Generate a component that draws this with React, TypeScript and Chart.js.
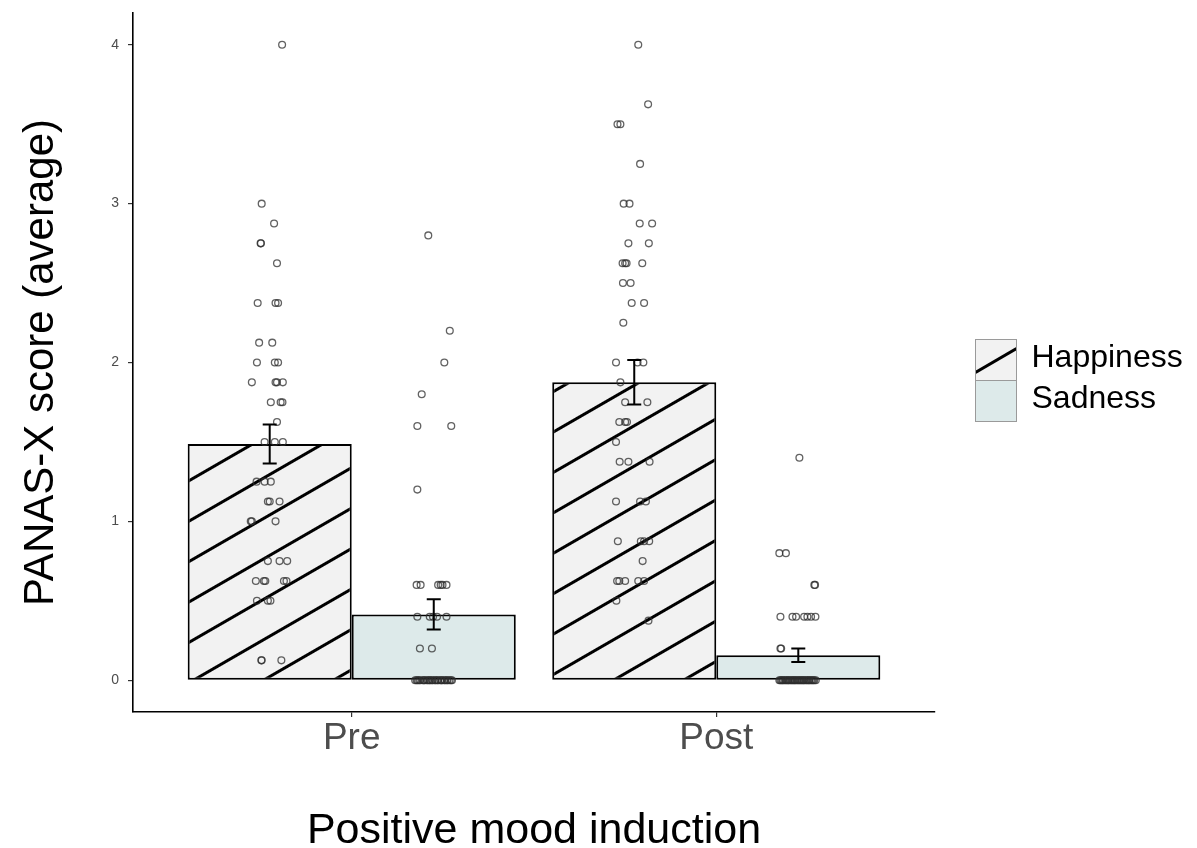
import React, { useEffect, useRef } from 'react';
import { Chart, registerables } from 'chart.js';

Chart.register(...registerables);

const FONT = '"Liberation Sans", Arial, Helvetica, sans-serif';

// ---------- data ----------
const categories = ['Pre', 'Post'];
const seriesLabels = ['Happiness', 'Sadness'];
const happinessMeans = [1.487, 1.875];
const sadnessMeans = [0.414, 0.157];
const happinessSE = [0.123, 0.14];
const sadnessSE = [0.095, 0.043];
const yTicks = [0, 1, 2, 3, 4];

const happinessPreValues = [4.0, 3.0, 2.875, 2.75, 2.75, 2.625, 2.375, 2.375, 2.375, 2.125, 2.125, 2.0, 2.0, 2.0, 1.875, 1.875, 1.875, 1.875, 1.75, 1.75, 1.75, 1.625, 1.5, 1.5, 1.5, 1.25, 1.25, 1.25, 1.125, 1.125, 1.125, 1.0, 1.0, 1.0, 0.75, 0.75, 0.75, 0.625, 0.625, 0.625, 0.625, 0.625, 0.5, 0.5, 0.5, 0.125, 0.125, 0.125];
const happinessPreJitter = [0.034, -0.022, 0.012, -0.025, -0.024, 0.02, -0.033, 0.016, 0.023, -0.029, 0.007, -0.035, 0.014, 0.023, -0.049, 0.016, 0.02, 0.036, 0.003, 0.03, 0.035, 0.02, -0.014, 0.014, 0.036, -0.036, -0.014, 0.003, -0.005, 0.0, 0.027, -0.052, -0.049, 0.016, -0.005, 0.027, 0.048, -0.038, -0.016, -0.012, 0.039, 0.046, -0.035, -0.005, 0.002, -0.023, -0.022, 0.032];

const happinessPostValues = [4.0, 3.625, 3.5, 3.5, 3.25, 3.0, 3.0, 2.875, 2.875, 2.75, 2.75, 2.625, 2.625, 2.625, 2.625, 2.5, 2.5, 2.375, 2.375, 2.25, 2.0, 2.0, 2.0, 1.875, 1.75, 1.75, 1.625, 1.625, 1.625, 1.5, 1.375, 1.375, 1.375, 1.125, 1.125, 1.125, 0.875, 0.875, 0.875, 0.875, 0.75, 0.625, 0.625, 0.625, 0.625, 0.625, 0.5, 0.375];
const happinessPostJitter = [0.011, 0.038, -0.046, -0.038, 0.016, -0.029, -0.013, 0.015, 0.049, -0.016, 0.04, -0.032, -0.025, -0.021, 0.022, -0.031, -0.01, -0.007, 0.027, -0.03, -0.05, 0.009, 0.025, -0.038, -0.025, 0.036, -0.041, -0.025, -0.02, -0.05, -0.04, -0.016, 0.042, -0.05, 0.016, 0.032, -0.045, 0.018, 0.027, 0.041, 0.023, -0.047, -0.041, -0.025, 0.011, 0.027, -0.049, 0.039];

const sadnessPreValues = [2.8, 2.2, 2.0, 1.8, 1.6, 1.6, 1.2, 0.6, 0.6, 0.6, 0.6, 0.6, 0.6, 0.4, 0.4, 0.4, 0.4, 0.4, 0.2, 0.2, 0, 0, 0, 0, 0, 0, 0, 0, 0, 0, 0, 0, 0, 0, 0, 0, 0, 0, 0, 0, 0, 0, 0, 0, 0, 0, 0, 0];
const sadnessPreJitter = [-0.015, 0.044, 0.029, -0.033, -0.045, 0.048, -0.045, -0.047, -0.036, 0.012, 0.019, 0.024, 0.035, -0.045, -0.011, -0.002, 0.009, 0.035, -0.038, -0.005, -0.051, -0.047, -0.044, -0.04, -0.037, -0.03, -0.027, -0.025, -0.019, -0.016, -0.012, -0.01, -0.005, -0.003, 0.003, 0.005, 0.01, 0.012, 0.018, 0.021, 0.023, 0.029, 0.031, 0.036, 0.038, 0.043, 0.047, 0.05];

const sadnessPostValues = [1.4, 0.8, 0.8, 0.6, 0.6, 0.4, 0.4, 0.4, 0.4, 0.4, 0.4, 0.4, 0.2, 0.2, 0, 0, 0, 0, 0, 0, 0, 0, 0, 0, 0, 0, 0, 0, 0, 0, 0, 0, 0, 0, 0, 0, 0, 0, 0, 0, 0, 0, 0, 0, 0, 0, 0, 0];
const sadnessPostJitter = [0.003, -0.052, -0.034, 0.046, 0.044, -0.049, -0.016, -0.006, 0.016, 0.025, 0.035, 0.047, -0.049, -0.047, -0.052, -0.049, -0.046, -0.043, -0.041, -0.037, -0.034, -0.031, -0.028, -0.026, -0.022, -0.019, -0.016, -0.013, -0.01, -0.008, -0.004, -0.001, 0.002, 0.005, 0.008, 0.011, 0.014, 0.016, 0.02, 0.023, 0.026, 0.029, 0.031, 0.035, 0.038, 0.041, 0.044, 0.048];

// ---------- styling ----------
const HAPPY_FILL = '#f2f2f2';
const SAD_FILL = '#ddeaea';
const DODGE = 0.225; // half of the dodged bar width in category units

function points(cat: number, side: number, values: number[], jitter: number[]) {
  return values.map((v, i) => ({ x: cat + 1 + side * DODGE + jitter[i], y: v }));
}

function makeHatch(ctx: CanvasRenderingContext2D) {
  const tile = document.createElement('canvas');
  tile.width = 8;
  tile.height = 35;
  const t = tile.getContext('2d')!;
  t.fillStyle = HAPPY_FILL;
  t.fillRect(0, 0, 8, 35);
  t.fillStyle = '#000';
  t.fillRect(0, 16, 8, 3);
  const p = ctx.createPattern(tile, 'repeat')!;
  p.setTransform(new DOMMatrix().translate(188, 481.3).rotate(-30).translate(0, -17.5));
  return p;
}

const errorBarPlugin = {
  id: 'errorBars',
  afterDatasetsDraw(chart: any) {
    const c = chart.ctx;
    const ys = chart.scales.y;
    const groups: [number, number[], number[]][] = [
      [0, happinessMeans, happinessSE],
      [1, sadnessMeans, sadnessSE],
    ];
    c.save();
    c.strokeStyle = '#000';
    c.lineWidth = 2;
    groups.forEach(([di, means, ses]) => {
      const meta = chart.getDatasetMeta(di);
      meta.data.forEach((bar: any, i: number) => {
        const x = bar.x;
        const top = ys.getPixelForValue(means[i] + ses[i]);
        const bot = ys.getPixelForValue(means[i] - ses[i]);
        const hw = 7;
        c.beginPath();
        c.moveTo(x, top);
        c.lineTo(x, bot);
        c.moveTo(x - hw, top);
        c.lineTo(x + hw, top);
        c.moveTo(x - hw, bot);
        c.lineTo(x + hw, bot);
        c.stroke();
      });
    });
    c.restore();
  },
};

const legendPlugin = {
  id: 'patternLegend',
  afterDraw(chart: any) {
    const c = chart.ctx;
    const left = chart.chartArea.right + 40.5;
    const size = 41;
    const top = 339.5;
    c.save();
    // Happiness key
    c.fillStyle = HAPPY_FILL;
    c.fillRect(left, top, size, size);
    c.save();
    c.beginPath();
    c.rect(left, top, size, size);
    c.clip();
    c.strokeStyle = '#000';
    c.lineWidth = 3;
    c.beginPath();
    c.moveTo(left, top + 33);
    c.lineTo(left + size, top + 9);
    c.stroke();
    c.restore();
    c.strokeStyle = '#9a9a9a';
    c.lineWidth = 1;
    c.strokeRect(left, top, size, size);
    // Sadness key
    c.fillStyle = SAD_FILL;
    c.fillRect(left, top + size, size, size);
    c.strokeRect(left, top + size, size, size);
    // labels
    c.fillStyle = '#000';
    c.font = `32px ${FONT}`;
    c.textBaseline = 'middle';
    c.textAlign = 'left';
    c.fillText(chart.data.datasets[0].label, left + 56, top + 19);
    c.fillText(chart.data.datasets[1].label, left + 56, top + size + 19);
    c.restore();
  },
};

export default function App() {
  const ref = useRef<HTMLCanvasElement>(null);

  useEffect(() => {
    const canvas = ref.current!;
    const ctx = canvas.getContext('2d')!;
    const hatch = makeHatch(ctx);

    const pointStyle = {
      type: 'scatter' as const,
      pointRadius: 3.4,
      pointBorderWidth: 1.3,
      pointBorderColor: 'rgba(45,45,45,0.75)',
      pointBackgroundColor: 'rgba(0,0,0,0)',
      showLine: false,
      order: 0,
    };

    const chart = new Chart(ctx, {
      type: 'bar',
      data: {
        datasets: [
          {
            type: 'bar',
            label: seriesLabels[0],
            data: happinessMeans.map((m, i) => ({ x: i + 1, y: m })),
            backgroundColor: hatch as any,
            borderColor: '#000',
            borderWidth: 2,
            borderSkipped: false,
            categoryPercentage: 0.9,
            barPercentage: 1,
            order: 2,
          },
          {
            type: 'bar',
            label: seriesLabels[1],
            data: sadnessMeans.map((m, i) => ({ x: i + 1, y: m })),
            backgroundColor: SAD_FILL,
            borderColor: '#000',
            borderWidth: 2,
            borderSkipped: false,
            categoryPercentage: 0.9,
            barPercentage: 1,
            order: 2,
          },
          { ...pointStyle, label: 'Happiness Pre', data: points(0, -1, happinessPreValues, happinessPreJitter) },
          { ...pointStyle, label: 'Sadness Pre', data: points(0, 1, sadnessPreValues, sadnessPreJitter) },
          { ...pointStyle, label: 'Happiness Post', data: points(1, -1, happinessPostValues, happinessPostJitter) },
          { ...pointStyle, label: 'Sadness Post', data: points(1, 1, sadnessPostValues, sadnessPostJitter) },
        ] as any,
      },
      options: {
        responsive: false,
        animation: false,
        devicePixelRatio: 1,
        events: [],
        layout: { padding: { left: 0, top: 13, right: 262, bottom: 0 } },
        plugins: { legend: { display: false }, tooltip: { enabled: false } },
        scales: {
          x: {
            type: 'linear',
            min: 0.4,
            max: 2.6,
            offset: false,
            afterBuildTicks: (s: any) => {
              s.ticks = categories.map((_, i) => ({ value: i + 1 }));
            },
            afterFit: (s: any) => {
              s.height = 136;
              s.paddingLeft = 0;
              s.paddingRight = 0;
              s.paddingTop = 0;
              s.paddingBottom = 0;
            },
            ticks: {
              autoSkip: false,
              maxRotation: 0,
              padding: 3,
              color: '#4d4d4d',
              font: { family: FONT, size: 37, lineHeight: 1 },
              callback: (v: any) => categories[Math.round(Number(v)) - 1] ?? '',
            },
            grid: { offset: false, drawOnChartArea: false, drawTicks: true, tickLength: 5, color: '#333', lineWidth: 1.2 },
            border: { display: true, color: '#000', width: 1.6 },
            title: {
              display: true,
              text: 'Positive mood induction',
              color: '#000',
              font: { family: FONT, size: 43, lineHeight: 0.8 },
              padding: { top: 0, bottom: 0 },
            },
          },
          y: {
            type: 'linear',
            min: -0.2,
            max: 4.2,
            afterBuildTicks: (s: any) => {
              s.ticks = yTicks.map((v) => ({ value: v }));
            },
            afterFit: (s: any) => {
              s.width = 133;
              s.paddingLeft = 0;
              s.paddingRight = 0;
              s.paddingTop = 0;
              s.paddingBottom = 0;
            },
            ticks: {
              padding: 9,
              color: '#4d4d4d',
              font: { family: FONT, size: 14 },
              callback: (v: any) => String(v),
            },
            grid: { drawOnChartArea: false, drawTicks: true, tickLength: 5, color: '#333', lineWidth: 1.2 },
            border: { display: true, color: '#000', width: 1.6 },
            title: {
              display: true,
              text: 'PANAS-X score (average)',
              color: '#000',
              font: { family: FONT, size: 42, lineHeight: 1 },
              padding: { top: 20, bottom: 0 },
            },
          },
        },
      } as any,
      plugins: [errorBarPlugin, legendPlugin],
    });

    return () => chart.destroy();
  }, []);

  return (
    <div style={{ position: 'absolute', left: 0, top: 0, width: 1197, height: 848, background: '#fff' }}>
      <canvas ref={ref} width={1197} height={848} style={{ display: 'block', width: 1197, height: 848 }} />
    </div>
  );
}
